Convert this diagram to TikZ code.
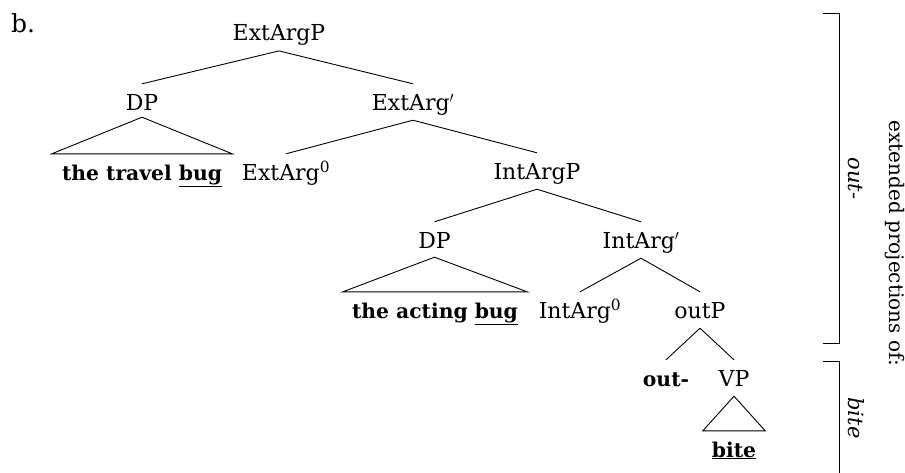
\documentclass[tikz,border=0pt]{standalone}
\usepackage{fontspec}
\setmainfont{DejaVu Serif}
\begin{document}
\begin{tikzpicture}[x=1pt,y=-1pt,
  treefont/.style={font=\fontsize{22}{26}\selectfont},
  boldfont/.style={font=\fontsize{20.3}{24}\selectfont\bfseries},
  cat/.style={treefont, anchor=base, text height=16pt, text depth=0pt,
              inner ysep=10pt, inner xsep=0pt},
  roof/.style={boldfont, anchor=base, text height=16pt, text depth=0pt,
               inner ysep=10pt, inner xsep=0pt, minimum width=#1},
  branch/.style={draw=black, line width=0.9pt},
  brace/.style={draw=black, line width=1pt},
  sidelabel/.style={treefont, rotate=-90, anchor=base, inner sep=0pt}
]
\useasboundingbox (0,0) rectangle (905,472);

% example label
\node[font=\fontsize{25}{30}\selectfont, anchor=base west, inner sep=0pt] (ex) at (11,32) {b.};

% categories
\node[cat] (extargp)   at (279,40.7) {ExtArgP};
\node[cat] (dpa)       at (142,110)  {DP};
\node[cat] (extargbar) at (413,110)  {ExtArg$'$};
\node[cat] (extargz)   at (286,180)  {ExtArg\textsuperscript{0}};
\node[cat] (intargp)   at (537,179)  {IntArgP};
\node[cat] (dpb)       at (434.5,248) {DP};
\node[cat] (intargbar) at (641,248)  {IntArg$'$};
\node[cat] (intargz)   at (580,318)  {IntArg\textsuperscript{0}};
\node[cat] (outp)      at (700,318)  {outP};
\node[cat,boldfont] (outpfx) at (666,386) {out-};
\node[cat] (vp)        at (734,386)  {VP};

% lexical material under roofs
\node[roof=180pt] (travel) at (142,180) {the travel \underline{bug}};
\node[roof=184pt] (acting) at (435,318) {the acting \underline{bug}};
\node[roof=62pt]  (bite)   at (734,457) {\underline{bite}};

% branches
\draw[branch] (extargp.south) -- (dpa.north);
\draw[branch] (extargp.south) -- (extargbar.north);
\draw[branch] (extargbar.south) -- (extargz.north);
\draw[branch] (extargbar.south) -- (intargp.north);
\draw[branch] (intargp.south) -- (dpb.north);
\draw[branch] (intargp.south) -- (intargbar.north);
\draw[branch] (intargbar.south) -- (intargz.north);
\draw[branch] (intargbar.south) -- (outp.north);
\draw[branch] (outp.south) -- (outpfx.north);
\draw[branch] (outp.south) -- (vp.north);

% roofs
\draw[branch] ([yshift=3pt]dpa.south) -- (travel.north west) -- (travel.north east) -- cycle;
\draw[branch] ([yshift=1pt]dpb.south) -- (acting.north west) -- (acting.north east) -- cycle;
\draw[branch] (vp.south) -- (bite.north west) -- (bite.north east) -- cycle;

% side brackets
\draw[brace] (823,13) -- (839,13) -- (839,343) -- (823,343);
\draw[brace] (823,361) -- (839,361) -- (839,473);

% side labels
\node[sidelabel, font=\fontsize{21}{24}\selectfont\itshape] (lout)  at (848,178.5) {out-};
\node[sidelabel, font=\fontsize{21}{24}\selectfont\itshape] (lbite) at (848,418)   {bite};
\node[sidelabel, font=\fontsize{20}{24}\selectfont] (lext) at (889,243.5) {extended projections of:};
\end{tikzpicture}
\end{document}
